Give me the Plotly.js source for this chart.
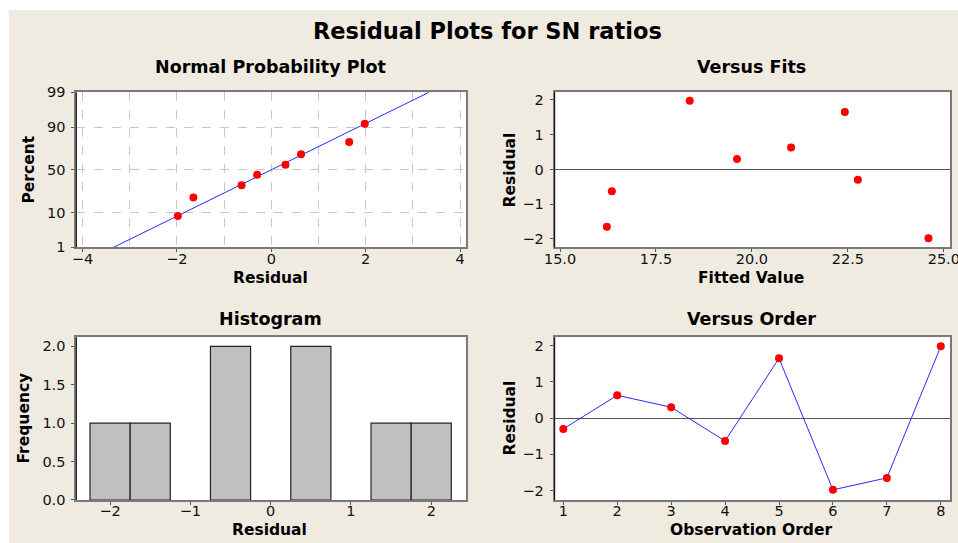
<!DOCTYPE html>
<html>
<head>
<meta charset="utf-8">
<script src="https://cdn.plot.ly/plotly-3.0.1.min.js"></script>
<style>html,body{margin:0;padding:0;background:#fff;}#chart{width:958px;height:543px;}</style>
</head>
<body>
<div id="chart"></div>
<script>
// ---- data ----
var observation = [1, 2, 3, 4, 5, 6, 7, 8];
var residuals   = [-0.30, 0.63, 0.30, -0.63, 1.65, -1.98, -1.65, 1.98];
var fittedValues = [22.76, 21.02, 19.61, 16.35, 22.42, 24.60, 16.22, 18.38];
var probPercent = [8.3, 20.2, 32.1, 44.0, 56.0, 67.9, 79.8, 91.7];
var fitLineResidual = [-3.34, 3.34];
var fitLinePercent = [1, 99];
var percentTicks = [1, 10, 50, 90, 99];
var percentTickText = ['1', '10', '50', '90', '99'];

// inverse standard normal CDF (probability axis scale)
function normInv(p) {
  var a = [-3.969683028665376e+01, 2.209460984245205e+02, -2.759285104469687e+02, 1.383577518672690e+02, -3.066479806614716e+01, 2.506628277459239e+00];
  var b = [-5.447609879822406e+01, 1.615858368580409e+02, -1.556989798598866e+02, 6.680131188771972e+01, -1.328068155288572e+01];
  var c = [-7.784894002430293e-03, -3.223964580411365e-01, -2.400758277161838e+00, -2.549732539343734e+00, 4.374664141464968e+00, 2.938163982698783e+00];
  var d = [7.784695709041462e-03, 3.224671290700398e-01, 2.445134137142996e+00, 3.754408661907416e+00];
  var pl = 0.02425, q, r;
  if (p < pl) { q = Math.sqrt(-2 * Math.log(p));
    return (((((c[0]*q+c[1])*q+c[2])*q+c[3])*q+c[4])*q+c[5]) / ((((d[0]*q+d[1])*q+d[2])*q+d[3])*q+1); }
  if (p <= 1 - pl) { q = p - 0.5; r = q * q;
    return (((((a[0]*r+a[1])*r+a[2])*r+a[3])*r+a[4])*r+a[5])*q / (((((b[0]*r+b[1])*r+b[2])*r+b[3])*r+b[4])*r+1); }
  q = Math.sqrt(-2 * Math.log(1 - p));
  return -(((((c[0]*q+c[1])*q+c[2])*q+c[3])*q+c[4])*q+c[5]) / ((((d[0]*q+d[1])*q+d[2])*q+d[3])*q+1);
}
function toZ(arr) { return arr.map(function (v) { return normInv(v / 100); }); }

var sortedResiduals = residuals.slice().sort(function (a, b) { return a - b; });

var FONT = 'DejaVu Sans, Verdana, sans-serif';
var TXT = '#111';
var RED = '#ff0000';
var BLUE = '#2a2aff';

var traces = [
  { x: fitLineResidual, y: toZ(fitLinePercent), xaxis: 'x', yaxis: 'y', type: 'scatter', mode: 'lines',
    line: { color: BLUE, width: 1 }, hoverinfo: 'skip' },
  { x: sortedResiduals, y: toZ(probPercent), xaxis: 'x', yaxis: 'y', type: 'scatter', mode: 'markers',
    marker: { color: RED, size: 8 } },
  { x: fittedValues, y: residuals, xaxis: 'x2', yaxis: 'y2', type: 'scatter', mode: 'markers',
    marker: { color: RED, size: 8 } },
  { x: residuals, xaxis: 'x3', yaxis: 'y3', type: 'histogram',
    xbins: { start: -2.25, end: 2.25, size: 0.5 },
    marker: { color: '#c0c0c0', line: { color: '#222', width: 1.2 } } },
  { x: observation, y: residuals, xaxis: 'x4', yaxis: 'y4', type: 'scatter', mode: 'lines+markers',
    line: { color: BLUE, width: 1 }, marker: { color: RED, size: 8 } }
];

function baseAxis(isX, extra) {
  var o = {
    showline: true, linecolor: '#7a7a7a', linewidth: 2, mirror: true,
    ticks: 'outside', ticklen: 3, tickcolor: '#555', tickwidth: 1,
    tickfont: { family: FONT, size: 14.5, color: TXT },
    ticklabelstandoff: isX ? -6 : 3, ticklabeloverflow: 'allow',
    showgrid: false, zeroline: false, fixedrange: true
  };
  for (var k in extra) o[k] = extra[k];
  return o;
}

var yTop = [0.5446, 0.830];
var yBot = [0.0792, 0.3788];
var xL = [0.0797, 0.4862];
var xR = [0.579, 0.9916];

var layout = {
  width: 958, height: 543,
  margin: { l: 0, r: 0, t: 0, b: 0, pad: 0 },
  paper_bgcolor: '#efebe1', plot_bgcolor: '#ffffff',
  showlegend: false, bargap: 0,
  font: { family: FONT, color: TXT },
  xaxis: baseAxis(true, { domain: xL, anchor: 'y', range: [-4.13, 4.12], tickvals: [-4, -2, 0, 2, 4],
    showgrid: true, gridcolor: '#c8c8c8', griddash: 'dash', gridwidth: 1,
    minor: { dtick: 1, tick0: 0, showgrid: true, gridcolor: '#c8c8c8', griddash: 'dash', ticks: '' } }),
  yaxis: baseAxis(false, { domain: yTop, anchor: 'x', range: [normInv(0.01), normInv(0.99)],
    tickvals: toZ(percentTicks), ticktext: percentTickText,
    showgrid: true, gridcolor: '#c8c8c8', griddash: 'dash', gridwidth: 1 }),
  xaxis2: baseAxis(true, { domain: xR, anchor: 'y2', range: [14.86, 25.16], tickvals: [15, 17.5, 20, 22.5, 25],
    ticktext: ['15.0', '17.5', '20.0', '22.5', '25.0'] }),
  yaxis2: baseAxis(false, { domain: yTop, anchor: 'x2', range: [-2.24, 2.22], dtick: 1,
    zeroline: true, zerolinecolor: '#555', zerolinewidth: 1 }),
  xaxis3: baseAxis(true, { domain: xL, anchor: 'y3', range: [-2.42, 2.43], dtick: 1 }),
  yaxis3: baseAxis(false, { domain: yBot, anchor: 'x3', range: [0, 2.117], dtick: 0.5, tickformat: '.1f' }),
  xaxis4: baseAxis(true, { domain: xR, anchor: 'y4', range: [0.84, 8.17], dtick: 1 }),
  yaxis4: baseAxis(false, { domain: yBot, anchor: 'x4', range: [-2.26, 2.23], dtick: 1,
    zeroline: true, zerolinecolor: '#555', zerolinewidth: 1 }),
  shapes: [
    { type: 'rect', xref: 'paper', yref: 'paper', x0: 0, x1: 1, y0: 1 - 10 / 543, y1: 1,
      fillcolor: '#ffffff', line: { width: 0 }, layer: 'below' },
    { type: 'rect', xref: 'paper', yref: 'paper', x0: 0, x1: 9 / 958, y0: 0, y1: 1,
      fillcolor: '#ffffff', line: { width: 0 }, layer: 'below' }
  ],
  annotations: []
};

// black left frame edge like the reference
['', '2', '3', '4'].forEach(function (s) {
  layout.shapes.push({ type: 'line', xref: 'x' + s + ' domain', yref: 'y' + s + ' domain',
    x0: 0, x1: 0, y0: 0, y1: 1, line: { color: '#000', width: 1 } });
});

function ann(text, xpx, ypx, size, rot) {
  layout.annotations.push({ text: '<b>' + text + '</b>', xref: 'paper', yref: 'paper',
    x: xpx / 958, y: 1 - ypx / 543, xanchor: 'center', yanchor: 'middle', showarrow: false,
    textangle: rot || 0, font: { family: FONT, size: size, color: '#000' } });
}
ann('Residual Plots for SN ratios', 487, 31, 22.5);
ann('Normal Probability Plot', 270.5, 67, 17.5);
ann('Versus Fits', 751, 67, 17.5);
ann('Histogram', 270, 319, 17.5);
ann('Versus Order', 751, 319, 17.5);
ann('Residual', 270, 278, 15.5);
ann('Percent', 28.5, 170, 15.5, -90);
ann('Fitted Value', 751, 278, 15.5);
ann('Residual', 509.5, 170, 15.5, -90);
ann('Residual', 269.5, 530, 15.5);
ann('Frequency', 23.5, 418, 15.5, -90);
ann('Observation Order', 751, 530, 15.5);
ann('Residual', 509.5, 418, 15.5, -90);

Plotly.newPlot('chart', traces, layout, { displayModeBar: false, staticPlot: true });
</script>
</body>
</html>
